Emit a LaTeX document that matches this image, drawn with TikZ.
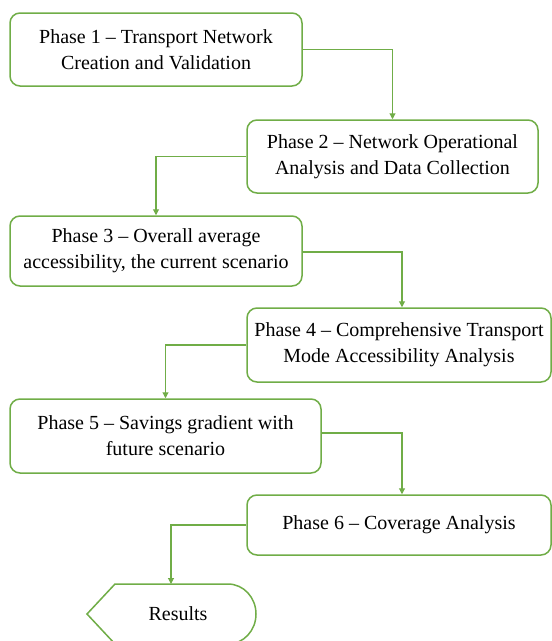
\documentclass[tikz,border=0pt]{standalone}
\usepackage{fontspec}
\setmainfont{Liberation Serif}
\usetikzlibrary{arrows.meta}
\definecolor{leaf}{RGB}{112,173,71}

\begin{document}
\begin{tikzpicture}[x=1pt,y=-1pt,
  phase/.style={draw=leaf, line width=1.5pt, rounded corners=10pt,
    align=center, inner sep=0pt, fill=white,
    font=\fontsize{20}{26}\selectfont},
  link/.style={draw=leaf, line width=1.1pt,
    -{Triangle[length=6pt,width=6pt]}},
  endbox/.style={draw=leaf, line width=1.5pt, fill=white}]
\clip (0,0) rectangle (552,641);

% phase boxes
\node[phase, minimum width=292pt, minimum height=73pt] (p1) at (156,49.5)
  {Phase 1 -- Transport Network\\Creation and Validation};
\node[phase, minimum width=291pt, minimum height=73pt] (p2) at (392.5,156.5)
  {Phase 2 -- Network Operational\\Analysis and Data Collection};
\node[phase, minimum width=292pt, minimum height=70pt] (p3) at (156,251)
  {Phase 3 -- Overall average\\accessibility, the current scenario};
\node[phase, minimum width=304pt, minimum height=74pt] (p4) at (399,345)
  {Phase 4 -- Comprehensive Transport\\Mode Accessibility Analysis};
\node[phase, minimum width=311pt, minimum height=74pt] (p5) at (165.5,436)
  {Phase 5 -- Savings gradient with\\future scenario};
\node[phase, minimum width=304pt, minimum height=60pt] (p6) at (399,525)
  {Phase 6 -- Coverage Analysis};

% results terminal
\draw[endbox] (87,614) -- (115,584) -- (228,584)
  .. controls (243.5,584) and (256,597.4) .. (256,614)
  .. controls (256,630.6) and (243.5,644) .. (228,644)
  -- (115,644) -- cycle;
\node[font=\fontsize{20}{26}\selectfont] (res) at (178,614) {Results};
\coordinate (restop) at (171,584);

% connectors
\draw[link] (p1.east) -| (p2.north);
\draw[link] (p2.west) -| (p3.north);
\draw[link] ([yshift=-1pt]p3.east) -| ([xshift=3pt]p4.north);
\draw[link] (p4.west) -| (p5.north);
\draw[link] ([yshift=3pt]p5.east) -| ([xshift=3pt]p6.north);
\draw[link] (p6.west) -| (restop);
\end{tikzpicture}
\end{document}
